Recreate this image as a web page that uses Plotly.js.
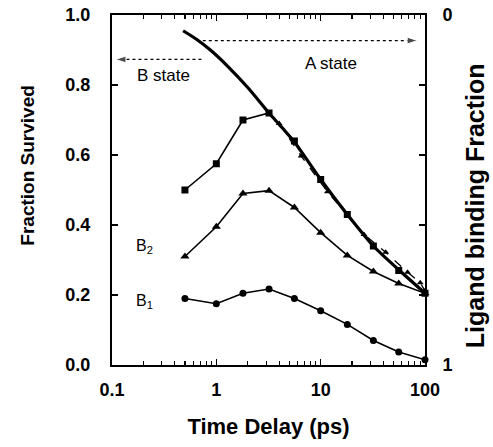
<!DOCTYPE html>
<html>
<head>
<meta charset="utf-8">
<script src="https://cdn.plot.ly/plotly-3.0.1.min.js"></script>
<style>html,body{margin:0;padding:0;background:#fff;}</style>
</head>
<body>
<div id="chart" style="width:493px;height:447px;"></div>
<script>
// ---- data ----
const timeDelay = [0.5, 1, 1.8, 3.2, 5.6, 10, 18, 32, 56, 100];
const squaresY  = [0.50, 0.575, 0.70, 0.72, 0.64, 0.53, 0.43, 0.34, 0.27, 0.205];
const b2Y       = [0.31, 0.395, 0.49, 0.498, 0.45, 0.378, 0.313, 0.267, 0.233, 0.205];
const b1Y       = [0.19, 0.175, 0.205, 0.217, 0.19, 0.155, 0.116, 0.07, 0.037, 0.015];

const fitX = [0.48, 0.65, 0.9, 1.3, 2, 3.2, 4.3, 5.6, 10, 18, 32, 56, 100];
const fitY = [0.955, 0.93, 0.897, 0.852, 0.793, 0.72, 0.677, 0.637, 0.53, 0.43, 0.34, 0.272, 0.205];

const dashX = [4, 6.5, 11.6, 26, 42, 68, 90, 100];
const dashY = [0.69, 0.597, 0.495, 0.373, 0.322, 0.265, 0.235, 0.212];

const aStateX = [0.65, 85];
const aStateY = [0.927, 0.927];
const bStateX = [0.72, 0.108];
const bStateY = [0.873, 0.873];

const leftTickVals = [0, 0.2, 0.4, 0.6, 0.8, 1.0];
const rightTickVals = [0, 1];
const rightTickText = ['0', '1'];
const rightMinorVals = [0.2, 0.4, 0.6, 0.8];
const xTickVals = [0.1, 1, 10, 100];
const xTickText = ['0.1', '1', '10', '100'];
const xMinorVals = [0.2,0.3,0.4,0.5,0.6,0.7,0.8,0.9, 2,3,4,5,6,7,8,9, 20,30,40,50,60,70,80,90];

const FONT = 'Liberation Sans, Arial, Helvetica, sans-serif';

const traces = [
  { x: fitX, y: fitY, mode: 'lines', line: {color: '#000', width: 3.2, shape: 'spline', smoothing: 0.8},
    hoverinfo: 'skip', showlegend: false, cliponaxis: false },
  { x: dashX, y: dashY, mode: 'lines+markers', line: {color: '#000', width: 1.3, dash: 'dash'},
    marker: {symbol: 'triangle-up', size: 6, color: '#000'}, showlegend: false, cliponaxis: false },
  { x: timeDelay, y: squaresY, mode: 'lines+markers', line: {color: '#000', width: 1.6},
    marker: {symbol: 'square', size: 7, color: '#000'}, showlegend: false, cliponaxis: false },
  { x: timeDelay, y: b2Y, mode: 'lines+markers', line: {color: '#000', width: 1.6},
    marker: {symbol: 'triangle-up', size: 8, color: '#000'}, showlegend: false, cliponaxis: false },
  { x: timeDelay, y: b1Y, mode: 'lines+markers', line: {color: '#000', width: 1.6},
    marker: {symbol: 'circle', size: 7, color: '#000'}, showlegend: false, cliponaxis: false },
  { x: aStateX, y: aStateY, mode: 'lines+markers', line: {color: '#000', width: 1.2, dash: 'dot'},
    marker: {symbol: ['square', 'arrow'], size: [8, 11], color: '#000', angleref: 'previous'},
    showlegend: false, cliponaxis: false },
  { x: bStateX, y: bStateY, mode: 'lines+markers', line: {color: '#000', width: 1.2, dash: 'dot'},
    marker: {symbol: ['circle', 'arrow'], size: [0, 11], color: '#000', angleref: 'previous'},
    showlegend: false, cliponaxis: false },
  { x: [], y: [], yaxis: 'y2', mode: 'markers', showlegend: false, hoverinfo: 'skip' }
];

const lg = Math.log10;
const tickFont = {size: 18, family: FONT, weight: 'bold'};
const layout = {
  width: 493, height: 447,
  margin: {l: 112, r: 68, t: 15, b: 82},
  paper_bgcolor: '#fff', plot_bgcolor: '#fff',
  font: {family: FONT, color: '#000'},
  showlegend: false,
  xaxis: {
    type: 'log', range: [-1, 2],
    tickvals: xTickVals, ticktext: xTickText,
    ticks: 'inside', ticklen: 6, tickwidth: 1.5, tickcolor: '#000',
    minor: {tickmode: 'array', tickvals: xMinorVals, ticks: 'inside', ticklen: 4, tickwidth: 1.2, tickcolor: '#000', showgrid: false},
    showline: true, linewidth: 2, linecolor: '#000', mirror: 'ticks',
    showgrid: false, zeroline: false,
    tickfont: tickFont, ticklabelstandoff: 7,
    title: {text: 'Time Delay (ps)', font: {size: 22, family: FONT, weight: 'bold'}, standoff: 20}
  },
  yaxis: {
    range: [0, 1],
    tickvals: leftTickVals, tickformat: '.1f',
    ticks: 'inside', ticklen: 6, tickwidth: 1.5, tickcolor: '#000',
    showline: true, linewidth: 2, linecolor: '#000',
    showgrid: false, zeroline: false,
    tickfont: tickFont, ticklabelstandoff: 16
  },
  yaxis2: {
    overlaying: 'y', side: 'right', range: [1, 0],
    tickvals: rightTickVals, ticktext: rightTickText,
    ticks: 'inside', ticklen: 6, tickwidth: 1.5, tickcolor: '#000',
    minor: {tickmode: 'array', tickvals: rightMinorVals, ticks: 'inside', ticklen: 6, tickwidth: 1.5, tickcolor: '#000', showgrid: false},
    showline: true, linewidth: 2, linecolor: '#000',
    showgrid: false, zeroline: false,
    tickfont: tickFont, ticklabelstandoff: 12
  },
  annotations: [
    {x: -0.27, y: 0.571, xref: 'paper', yref: 'paper', xanchor: 'center', yanchor: 'middle',
     text: 'Fraction Survived', textangle: -90, showarrow: false, font: {size: 19, weight: 'bold'}},
    {x: 1.16, y: 0.454, xref: 'paper', yref: 'paper', xanchor: 'center', yanchor: 'middle',
     text: 'Ligand binding Fraction', textangle: -90, showarrow: false, font: {size: 25, weight: 'bold'}},
    {x: lg(12.5), y: 0.862, xref: 'x', yref: 'y', text: 'A state', showarrow: false, font: {size: 17}},
    {x: lg(0.31), y: 0.826, xref: 'x', yref: 'y', text: 'B state', showarrow: false, font: {size: 17}},
    {x: lg(0.206), y: 0.338, xref: 'x', yref: 'y', text: 'B<sub>2</sub>', showarrow: false, font: {size: 16}},
    {x: lg(0.206), y: 0.181, xref: 'x', yref: 'y', text: 'B<sub>1</sub>', showarrow: false, font: {size: 16}}
  ]
};

Plotly.newPlot('chart', traces, layout, {displayModeBar: false, staticPlot: true});
</script>
</body>
</html>
